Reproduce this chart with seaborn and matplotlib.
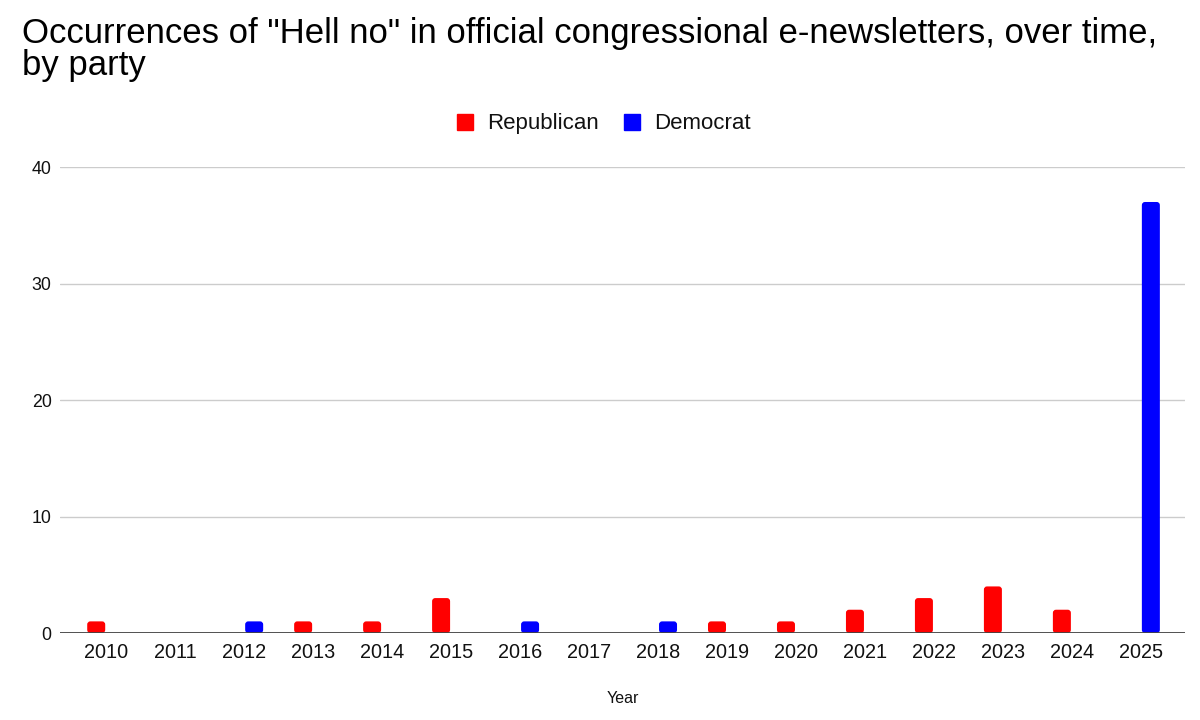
import matplotlib
matplotlib.use("Agg")
import matplotlib.pyplot as plt
from matplotlib.lines import Line2D
from matplotlib.patches import FancyBboxPatch
import seaborn as sns
import pandas as pd

# ── Data ────────────────────────────────────────────────
years = ["2010", "2011", "2012", "2013", "2014", "2015", "2016", "2017",
         "2018", "2019", "2020", "2021", "2022", "2023", "2024", "2025"]
republican = [1, 0, 0, 1, 1, 3, 0, 0, 0, 1, 1, 2, 3, 4, 2, 0]
democrat = [0, 0, 1, 0, 0, 0, 1, 0, 1, 0, 0, 0, 0, 0, 0, 37]
parties = ["Republican", "Democrat"]
colors = {"Republican": "#ff0000", "Democrat": "#0000ff"}
y_ticks = [0, 10, 20, 30, 40]

df = pd.DataFrame({"Year": years, "Republican": republican, "Democrat": democrat})
long_df = df.melt(id_vars="Year", var_name="Party", value_name="Count")

# ── Style ───────────────────────────────────────────────
sns.set_theme(style="white")
plt.rcParams["font.family"] = ["Liberation Sans", "DejaVu Sans"]
TXT = "#111111"

fig = plt.figure(figsize=(12, 7.2), dpi=100)
ax = fig.add_axes([0.05, 0.1208, 0.9375, 0.6472])

sns.barplot(data=long_df, x="Year", y="Count", hue="Party", hue_order=parties,
            palette=colors, order=years, width=0.58, gap=0.1,
            linewidth=0, saturation=1, legend=False, ax=ax)

ax.set_ylim(0, 40)
ax.set_xlim(-0.67, len(years) - 1 + 0.64)

# rounded tops like the sheets chart
for bar in list(ax.patches):
    h = bar.get_height()
    if h <= 0:
        bar.remove()
        continue
    rb = FancyBboxPatch((bar.get_x(), bar.get_y()), bar.get_width(), h,
                        boxstyle="round,pad=0,rounding_size=0.045",
                        mutation_aspect=6.0, facecolor=bar.get_facecolor(),
                        linewidth=0, zorder=2)
    bar.remove()
    ax.add_patch(rb)

ax.set_yticks(y_ticks)
ax.yaxis.grid(True, color="#cccccc", linewidth=1)
ax.set_axisbelow(True)
ax.axhline(0, color="#444444", linewidth=1.3, zorder=3)
for s in ax.spines.values():
    s.set_visible(False)
ax.tick_params(axis="both", length=0, labelcolor=TXT)
ax.tick_params(axis="x", labelsize=14.3, pad=7)
ax.tick_params(axis="y", labelsize=12.8, pad=6)
ax.set_ylabel("")
ax.set_xlabel("Year", fontsize=11.5, color=TXT, labelpad=21)

# title, two lines placed by baseline
fig.text(0.018, 0.9403, 'Occurrences of "Hell no" in official congressional e-newsletters, over time,',
         fontsize=25, ha="left", va="baseline", color="#000000")
fig.text(0.018, 0.8958, "by party", fontsize=25, ha="left", va="baseline", color="#000000")

handles = [Line2D([0], [0], marker="s", linestyle="", markersize=12.2,
                  markerfacecolor=colors[p], markeredgecolor=colors[p]) for p in parties]
fig.legend(handles, parties, loc="center", bbox_to_anchor=(0.503, 0.828), ncol=2,
           frameon=False, fontsize=16, handlelength=0.8, handletextpad=0.6,
           columnspacing=1.1, labelcolor=TXT)

fig.savefig("out.png", dpi=100)
